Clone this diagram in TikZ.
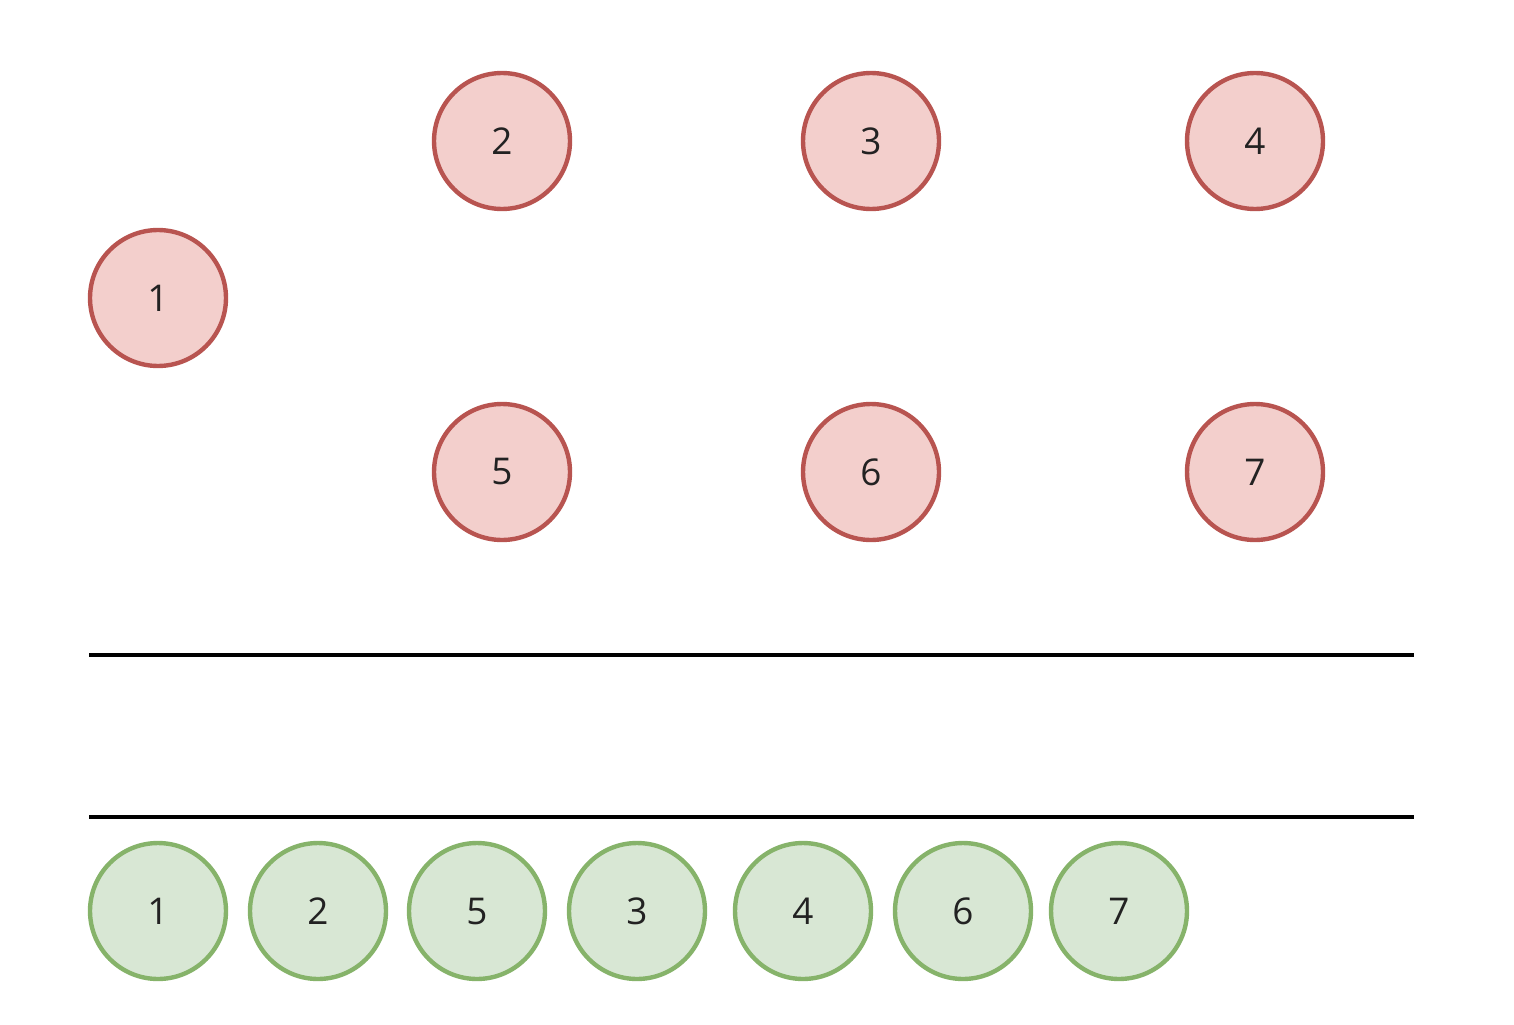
\documentclass[tikz,border=0pt]{standalone}
\usepackage{fontspec}
\setmainfont{Open Sans}
\definecolor{rfill}{HTML}{F3CFCC}
\definecolor{rdraw}{HTML}{B85450}
\definecolor{gfill}{HTML}{D8E7D4}
\definecolor{gdraw}{HTML}{86B36A}
\definecolor{txt}{HTML}{222222}
\tikzset{
  basenode/.style={circle, line width=2.5pt, minimum size=2.72cm, inner sep=0pt, font=\fontsize{21}{25}\selectfont, text=txt},
  rnode/.style={basenode, draw=rdraw, fill=rfill},
  gnode/.style={basenode, draw=gdraw, fill=gfill},
  sepline/.style={line width=2.2pt, black}
}
\begin{document}
\begin{tikzpicture}[x=0.02cm, y=-0.02cm]
\useasboundingbox (0,0) rectangle (1514,1024);
\node[rnode] (r1) at (158,298) {1};
\node[rnode] (r2) at (502,141) {2};
\node[rnode] (r3) at (871,141) {3};
\node[rnode] (r4) at (1255,141) {4};
\node[rnode] (r5) at (502,472) {5};
\node[rnode] (r6) at (871,472) {6};
\node[rnode] (r7) at (1255,472) {7};
\coordinate (l1a) at (89,655);
\coordinate (l1b) at (1414,655);
\coordinate (l2a) at (89,817);
\coordinate (l2b) at (1414,817);
\draw[sepline] (l1a) -- (l1b);
\draw[sepline] (l2a) -- (l2b);
\node[gnode] (g1) at (158,911) {1};
\node[gnode] (g2) at (318,911) {2};
\node[gnode] (g5) at (477,911) {5};
\node[gnode] (g3) at (637,911) {3};
\node[gnode] (g4) at (803,911) {4};
\node[gnode] (g6) at (963,911) {6};
\node[gnode] (g7) at (1119,911) {7};
\end{tikzpicture}
\end{document}
